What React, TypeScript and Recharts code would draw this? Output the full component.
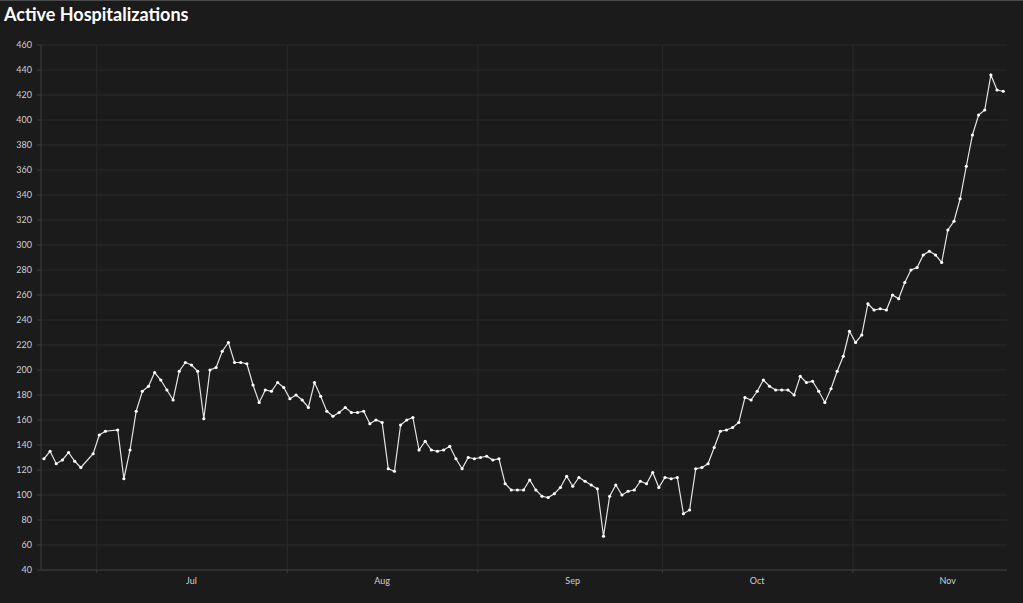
import { CartesianGrid, Line, LineChart, ReferenceLine, XAxis, YAxis } from "recharts";

// days counted from Jul 1; first reading is Jun 22
const START_DAY = -9;

// daily active hospitalizations, null = no report that day
const HOSPITALIZED: (number | null)[] = [
	129, 135, 125, 128, 134, 127, 122, null, 133,
	148, 151, null, 152, 113, 136, 167, 183, 187, 198, 192, 184, 176, 199, 206,
	204, 199, 161, 200, 202, 215, 222, 206, 206, 205, 188, 174, 184, 183, 190,
	186, 177, 180, 176, 170, 190, 179, 167, 163, 166, 170, 166, 166, 167, 157,
	160, 158, 121, 119, 156, 160, 162, 136, 143, 136, 135, 136, 139, 129, 121,
	130, 129, 130, 131, 128, 129, 109, 104, 104, 104, 112, 104, 99, 98, 101,
	106, 115, 107, 114, 111, 108, 105, 67, 99, 108, 100, 103, 104, 111, 109,
	118, 106, 114, 113, 114, 85, 88, 121, 122, 125, 138, 151, 152, 154, 158,
	178, 176, 183, 192, 187, 184, 184, 184, 180, 195, 190, 191, 183, 174, 185,
	199, 211, 231, 222, 228, 253, 248, 249, 248, 260, 257, 270, 280, 282, 292,
	295, 292, 286, 312, 319, 337, 363, 388, 404, 408, 436, 424, 423,
];

const MONTHS = ["Jul", "Aug", "Sep", "Oct", "Nov"];
const MONTH_START_DAYS = [0, 31, 62, 92, 123];
const Y_TICKS = [40, 60, 80, 100, 120, 140, 160, 180, 200, 220, 240, 260, 280, 300, 320, 340, 360, 380, 400, 420, 440, 460];

const BG = "#1b1b1b";
const GRID = "#2a2a2a";
const AXIS = "#3e3e3e";
const LABEL = "#cfcfcf";
const FONT = "Lato, 'Noto Sans', sans-serif";

// readings sit a little after midnight on the time axis
const POINT_SHIFT = 0.42;
const MID_DAYS = MONTH_START_DAYS.map((d) => d + 15.4);

const data = HOSPITALIZED.map((v, i) => ({ day: START_DAY + i + POINT_SHIFT, value: v })).filter(
	(p) => p.value !== null,
);

function MonthTick({ x, y, payload }: any) {
	const v = payload.value;
	if (MONTH_START_DAYS.indexOf(v) >= 0) {
		return <line x1={x} x2={x} y1={y} y2={y + 3} stroke={AXIS} />;
	}
	const m = MID_DAYS.indexOf(v);
	return (
		<text x={x} y={y + 14} textAnchor="middle" fill={LABEL} fontSize={9} fontFamily={FONT}>
			{MONTHS[m]}
		</text>
	);
}

export default function App() {
	return (
		<div style={{ position: "relative", width: 1023, height: 603, background: BG, borderTop: "1px solid #4a4a4a", boxSizing: "border-box" }}>
			<style>{`body{margin:0;background:${BG}}`}</style>
			<div
				style={{
					position: "absolute",
					left: 4,
					top: 3,
					color: "#fff",
					fontFamily: FONT,
					fontWeight: 700,
					fontSize: 18,
					lineHeight: 1.2,
				}}
			>
				Active Hospitalizations
			</div>
			<LineChart
				width={1023}
				height={602}
				data={data}
				margin={{ top: 44, right: 16, bottom: 12, left: 0 }}
				style={{ position: "absolute", left: 0, top: 0 }}
			>
				<CartesianGrid stroke={GRID} vertical={false} />
				{MONTH_START_DAYS.map((d) => (
					<ReferenceLine key={d} x={d} stroke={GRID} />
				))}
				<XAxis
					dataKey="day"
					type="number"
					domain={[-9.06, 148.04]}
					allowDataOverflow
					ticks={[...MONTH_START_DAYS, ...MID_DAYS]}
					interval={0}
					tick={<MonthTick />}
					tickLine={false}
					tickSize={0}
					tickMargin={0}
					height={21}
					stroke={AXIS}
				/>
				<YAxis
					type="number"
					domain={[40, 460]}
					ticks={Y_TICKS}
					interval={0}
					width={41}
					tickSize={4}
					tickMargin={5}
					stroke={AXIS}
					tick={{ fill: LABEL, fontSize: 9, fontFamily: FONT }}
				/>
				<Line
					dataKey="value"
					stroke="#e4e4e4"
					strokeWidth={1.2}
					dot={{ r: 1.6, fill: "#ffffff", stroke: "none" }}
					activeDot={false}
					isAnimationActive={false}
				/>
			</LineChart>
		</div>
	);
}
